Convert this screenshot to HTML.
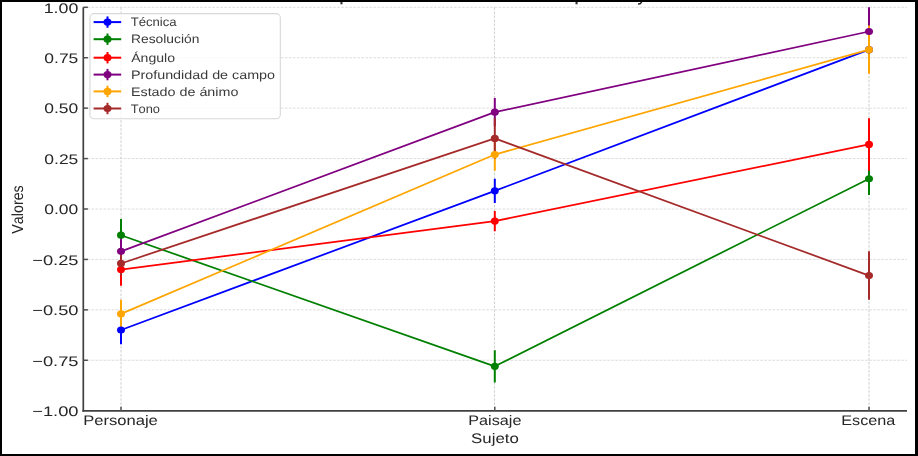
<!DOCTYPE html><html><head><meta charset="utf-8"><style>html,body{margin:0;padding:0;background:#fff;}svg{display:block;will-change:transform;}text{font-family:"Liberation Sans", sans-serif;font-kerning:none;text-rendering:geometricPrecision;}</style></head><body>
<svg width="918" height="456" viewBox="0 0 918 456">
<rect x="0" y="0" width="918" height="456" fill="#fff"/>
<line x1="83.3" y1="7.30" x2="907.0" y2="7.30" stroke="#d4d4d4" stroke-width="0.8" stroke-dasharray="2.65 1.38"/>
<line x1="83.3" y1="57.73" x2="907.0" y2="57.73" stroke="#d4d4d4" stroke-width="0.8" stroke-dasharray="2.65 1.38"/>
<line x1="83.3" y1="108.15" x2="907.0" y2="108.15" stroke="#d4d4d4" stroke-width="0.8" stroke-dasharray="2.65 1.38"/>
<line x1="83.3" y1="158.57" x2="907.0" y2="158.57" stroke="#d4d4d4" stroke-width="0.8" stroke-dasharray="2.65 1.38"/>
<line x1="83.3" y1="209.00" x2="907.0" y2="209.00" stroke="#d4d4d4" stroke-width="0.8" stroke-dasharray="2.65 1.38"/>
<line x1="83.3" y1="259.43" x2="907.0" y2="259.43" stroke="#d4d4d4" stroke-width="0.8" stroke-dasharray="2.65 1.38"/>
<line x1="83.3" y1="309.85" x2="907.0" y2="309.85" stroke="#d4d4d4" stroke-width="0.8" stroke-dasharray="2.65 1.38"/>
<line x1="83.3" y1="360.27" x2="907.0" y2="360.27" stroke="#d4d4d4" stroke-width="0.8" stroke-dasharray="2.65 1.38"/>
<line x1="121.0" y1="7.30" x2="121.0" y2="410.85" stroke="#c8c8c8" stroke-width="0.9" stroke-dasharray="2.65 1.38"/>
<line x1="494.5" y1="7.30" x2="494.5" y2="410.85" stroke="#cccccc" stroke-width="0.9" stroke-dasharray="2.65 1.38"/>
<line x1="869.0" y1="7.30" x2="869.0" y2="410.85" stroke="#c8c8c8" stroke-width="0.9" stroke-dasharray="2.65 1.38"/>
<defs><clipPath id="ax"><rect x="83.3" y="7.30" width="823.70" height="403.55"/></clipPath></defs>
<g clip-path="url(#ax)">
<line x1="121.0" y1="315.90" x2="121.0" y2="344.14" stroke="#0000ff" stroke-width="2.0"/>
<line x1="494.8" y1="178.75" x2="494.8" y2="202.95" stroke="#0000ff" stroke-width="2.0"/>
<line x1="869.0" y1="29.49" x2="869.0" y2="69.83" stroke="#0000ff" stroke-width="2.0"/>
<line x1="121.0" y1="219.09" x2="121.0" y2="251.36" stroke="#008000" stroke-width="2.0"/>
<line x1="494.8" y1="350.19" x2="494.8" y2="382.46" stroke="#008000" stroke-width="2.0"/>
<line x1="869.0" y1="162.61" x2="869.0" y2="194.88" stroke="#008000" stroke-width="2.0"/>
<line x1="121.0" y1="253.37" x2="121.0" y2="285.65" stroke="#ff0000" stroke-width="2.0"/>
<line x1="494.8" y1="211.02" x2="494.8" y2="231.19" stroke="#ff0000" stroke-width="2.0"/>
<line x1="869.0" y1="118.23" x2="869.0" y2="170.68" stroke="#ff0000" stroke-width="2.0"/>
<line x1="121.0" y1="233.20" x2="121.0" y2="269.51" stroke="#800080" stroke-width="2.0"/>
<line x1="494.8" y1="98.06" x2="494.8" y2="126.30" stroke="#800080" stroke-width="2.0"/>
<line x1="869.0" y1="1.25" x2="869.0" y2="61.76" stroke="#800080" stroke-width="2.0"/>
<line x1="121.0" y1="299.76" x2="121.0" y2="328.00" stroke="#ffa500" stroke-width="2.0"/>
<line x1="494.8" y1="138.41" x2="494.8" y2="170.68" stroke="#ffa500" stroke-width="2.0"/>
<line x1="869.0" y1="25.45" x2="869.0" y2="73.86" stroke="#ffa500" stroke-width="2.0"/>
<line x1="121.0" y1="251.36" x2="121.0" y2="275.56" stroke="#a52a2a" stroke-width="2.0"/>
<line x1="494.8" y1="118.24" x2="494.8" y2="158.58" stroke="#a52a2a" stroke-width="2.0"/>
<line x1="869.0" y1="251.36" x2="869.0" y2="299.76" stroke="#a52a2a" stroke-width="2.0"/>
<polyline points="121.0,330.02 494.8,190.85 869.0,49.66" fill="none" stroke="#0000ff" stroke-width="1.75" stroke-linejoin="round"/>
<ellipse cx="121.0" cy="330.02" rx="4.0" ry="3.6" fill="#0000ff"/>
<ellipse cx="494.8" cy="190.85" rx="4.0" ry="3.6" fill="#0000ff"/>
<ellipse cx="869.0" cy="49.66" rx="4.0" ry="3.6" fill="#0000ff"/>
<polyline points="121.0,235.22 494.8,366.33 869.0,178.75" fill="none" stroke="#008000" stroke-width="1.75" stroke-linejoin="round"/>
<ellipse cx="121.0" cy="235.22" rx="4.0" ry="3.6" fill="#008000"/>
<ellipse cx="494.8" cy="366.33" rx="4.0" ry="3.6" fill="#008000"/>
<ellipse cx="869.0" cy="178.75" rx="4.0" ry="3.6" fill="#008000"/>
<polyline points="121.0,269.51 494.8,221.10 869.0,144.46" fill="none" stroke="#ff0000" stroke-width="1.75" stroke-linejoin="round"/>
<ellipse cx="121.0" cy="269.51" rx="4.0" ry="3.6" fill="#ff0000"/>
<ellipse cx="494.8" cy="221.10" rx="4.0" ry="3.6" fill="#ff0000"/>
<ellipse cx="869.0" cy="144.46" rx="4.0" ry="3.6" fill="#ff0000"/>
<polyline points="121.0,251.36 494.8,112.18 869.0,31.50" fill="none" stroke="#800080" stroke-width="1.75" stroke-linejoin="round"/>
<ellipse cx="121.0" cy="251.36" rx="4.0" ry="3.6" fill="#800080"/>
<ellipse cx="494.8" cy="112.18" rx="4.0" ry="3.6" fill="#800080"/>
<ellipse cx="869.0" cy="31.50" rx="4.0" ry="3.6" fill="#800080"/>
<polyline points="121.0,313.88 494.8,154.54 869.0,49.66" fill="none" stroke="#ffa500" stroke-width="1.75" stroke-linejoin="round"/>
<ellipse cx="121.0" cy="313.88" rx="4.0" ry="3.6" fill="#ffa500"/>
<ellipse cx="494.8" cy="154.54" rx="4.0" ry="3.6" fill="#ffa500"/>
<ellipse cx="869.0" cy="49.66" rx="4.0" ry="3.6" fill="#ffa500"/>
<polyline points="121.0,263.46 494.8,138.41 869.0,275.56" fill="none" stroke="#a52a2a" stroke-width="1.75" stroke-linejoin="round"/>
<ellipse cx="121.0" cy="263.46" rx="4.0" ry="3.6" fill="#a52a2a"/>
<ellipse cx="494.8" cy="138.41" rx="4.0" ry="3.6" fill="#a52a2a"/>
<ellipse cx="869.0" cy="275.56" rx="4.0" ry="3.6" fill="#a52a2a"/>
</g>
<line x1="83.3" y1="7.30" x2="83.3" y2="411.75" stroke="#404040" stroke-width="1.7"/>
<line x1="82.45" y1="410.85" x2="907.0" y2="410.85" stroke="#404040" stroke-width="1.7"/>
<line x1="83.3" y1="7.30" x2="87.90" y2="7.30" stroke="#505050" stroke-width="1.5"/>
<line x1="83.3" y1="57.73" x2="87.90" y2="57.73" stroke="#505050" stroke-width="1.5"/>
<line x1="83.3" y1="108.15" x2="87.90" y2="108.15" stroke="#505050" stroke-width="1.5"/>
<line x1="83.3" y1="158.57" x2="87.90" y2="158.57" stroke="#505050" stroke-width="1.5"/>
<line x1="83.3" y1="209.00" x2="87.90" y2="209.00" stroke="#505050" stroke-width="1.5"/>
<line x1="83.3" y1="259.43" x2="87.90" y2="259.43" stroke="#505050" stroke-width="1.5"/>
<line x1="83.3" y1="309.85" x2="87.90" y2="309.85" stroke="#505050" stroke-width="1.5"/>
<line x1="83.3" y1="360.27" x2="87.90" y2="360.27" stroke="#505050" stroke-width="1.5"/>
<line x1="121.0" y1="410.85" x2="121.0" y2="406.85" stroke="#505050" stroke-width="1.5"/>
<line x1="494.8" y1="410.85" x2="494.8" y2="406.85" stroke="#505050" stroke-width="1.5"/>
<line x1="869.0" y1="410.85" x2="869.0" y2="406.85" stroke="#505050" stroke-width="1.5"/>
<text transform="translate(43.64,12.60) scale(1.2901,1)" font-size="13.8" fill="#262626">1.00</text>
<text transform="translate(44.32,63.03) scale(1.2665,1)" font-size="13.8" fill="#262626">0.75</text>
<text transform="translate(44.32,113.45) scale(1.2645,1)" font-size="13.8" fill="#262626">0.50</text>
<text transform="translate(44.32,163.88) scale(1.2665,1)" font-size="13.8" fill="#262626">0.25</text>
<text transform="translate(44.32,214.30) scale(1.2645,1)" font-size="13.8" fill="#262626">0.00</text>
<text transform="translate(32.20,264.73) scale(1.3281,1)" font-size="13.8" fill="#262626">−0.25</text>
<text transform="translate(32.20,315.15) scale(1.3265,1)" font-size="13.8" fill="#262626">−0.50</text>
<text transform="translate(32.20,365.57) scale(1.3281,1)" font-size="13.8" fill="#262626">−0.75</text>
<text transform="translate(32.20,416.00) scale(1.3265,1)" font-size="13.8" fill="#262626">−1.00</text>
<text transform="translate(83.14,425.25) scale(1.2021,1)" font-size="13.8" fill="#262626">Personaje</text>
<text transform="translate(468.27,425.25) scale(1.1743,1)" font-size="13.8" fill="#262626">Paisaje</text>
<text transform="translate(841.27,425.25) scale(1.1738,1)" font-size="13.8" fill="#262626">Escena</text>
<text transform="translate(471.03,443.00) scale(1.2209,1)" font-size="13.8" fill="#262626">Sujeto</text>
<text transform="translate(22.90,233.66) rotate(-90) scale(1.0339,1.1600)" font-size="13.8" fill="#262626">Valores</text>
<rect x="90.0" y="13.6" width="190.3" height="105.2" rx="4" ry="4" fill="#ffffff" fill-opacity="0.8" stroke="#d8d8d8" stroke-width="1.1"/>
<line x1="93.6" y1="22.10" x2="121.2" y2="22.10" stroke="#0000ff" stroke-width="2.0"/>
<line x1="107.5" y1="16.40" x2="107.5" y2="27.80" stroke="#0000ff" stroke-width="2.0"/>
<ellipse cx="107.5" cy="22.10" rx="4.0" ry="3.6" fill="#0000ff"/>
<text transform="translate(130.70,26.20) scale(1.0767,1)" font-size="12.2" fill="#3a3a3a">Técnica</text>
<line x1="93.6" y1="39.20" x2="121.2" y2="39.20" stroke="#008000" stroke-width="2.0"/>
<line x1="107.5" y1="33.50" x2="107.5" y2="44.90" stroke="#008000" stroke-width="2.0"/>
<ellipse cx="107.5" cy="39.20" rx="4.0" ry="3.6" fill="#008000"/>
<text transform="translate(130.96,43.30) scale(1.1355,1)" font-size="12.2" fill="#3a3a3a">Resolución</text>
<line x1="93.6" y1="57.70" x2="121.2" y2="57.70" stroke="#ff0000" stroke-width="2.0"/>
<line x1="107.5" y1="52.00" x2="107.5" y2="63.40" stroke="#ff0000" stroke-width="2.0"/>
<ellipse cx="107.5" cy="57.70" rx="4.0" ry="3.6" fill="#ff0000"/>
<text transform="translate(131.17,61.80) scale(1.1562,1)" font-size="12.2" fill="#3a3a3a">Ángulo</text>
<line x1="93.6" y1="74.60" x2="121.2" y2="74.60" stroke="#800080" stroke-width="2.0"/>
<line x1="107.5" y1="68.90" x2="107.5" y2="80.30" stroke="#800080" stroke-width="2.0"/>
<ellipse cx="107.5" cy="74.60" rx="4.0" ry="3.6" fill="#800080"/>
<text transform="translate(130.92,78.70) scale(1.1753,1)" font-size="12.2" fill="#3a3a3a">Profundidad de campo</text>
<line x1="93.6" y1="91.40" x2="121.2" y2="91.40" stroke="#ffa500" stroke-width="2.0"/>
<line x1="107.5" y1="85.70" x2="107.5" y2="97.10" stroke="#ffa500" stroke-width="2.0"/>
<ellipse cx="107.5" cy="91.40" rx="4.0" ry="3.6" fill="#ffa500"/>
<text transform="translate(130.92,95.50) scale(1.1749,1)" font-size="12.2" fill="#3a3a3a">Estado de ánimo</text>
<line x1="93.6" y1="108.50" x2="121.2" y2="108.50" stroke="#a52a2a" stroke-width="2.0"/>
<line x1="107.5" y1="102.80" x2="107.5" y2="114.20" stroke="#a52a2a" stroke-width="2.0"/>
<ellipse cx="107.5" cy="108.50" rx="4.0" ry="3.6" fill="#a52a2a"/>
<text transform="translate(130.71,112.60) scale(1.0547,1)" font-size="12.2" fill="#3a3a3a">Tono</text>
<rect x="340.4" y="2" width="2.1" height="2.3" fill="#333"/>
<rect x="575.5" y="2" width="2.1" height="2.3" fill="#333"/>
<path d="M641.6,2 Q640.6,4.3 638.0,4.0" stroke="#222" stroke-width="1.6" fill="none"/>
<rect x="0" y="0" width="918" height="2" fill="#000"/>
<rect x="0" y="454" width="918" height="2" fill="#000"/>
<rect x="0" y="0" width="2" height="456" fill="#000"/>
<rect x="915" y="0" width="3" height="456" fill="#000"/>
</svg></body></html>
